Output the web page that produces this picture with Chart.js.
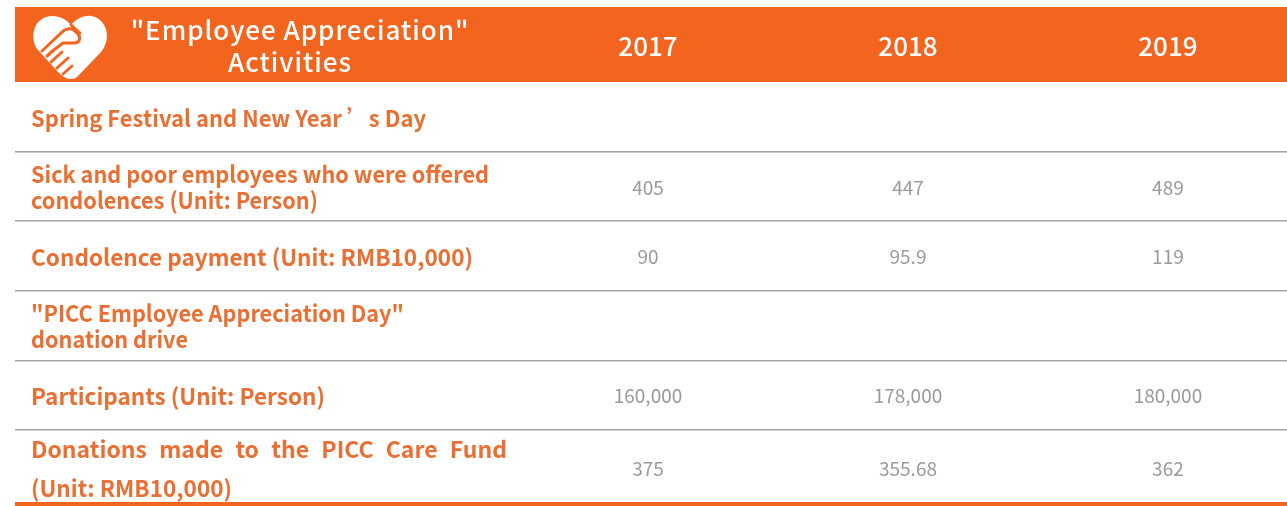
<!DOCTYPE html>
<html>
<head>
<meta charset="utf-8">
<script src="https://cdn.jsdelivr.net/npm/chart.js@4"></script>
<style>
  html, body { margin: 0; padding: 0; background: #fff; overflow: hidden; }
  canvas { display: block; }
</style>
</head>
<body>
<canvas id="myChart" width="1287" height="506"></canvas>
<script>
const years = [2017, 2018, 2019];
const headerTitle = ['"Employee Appreciation"', 'Activities'];
const rowLabels = [
    ["Spring Festival and New Year \u2019s Day"],
    ['Sick and poor employees who were offered', 'condolences (Unit: Person)'],
    ['Condolence payment (Unit: RMB10,000)'],
    ['"PICC Employee Appreciation Day"', 'donation drive'],
    ['Participants (Unit: Person)'],
    ['Donations made to the PICC Care Fund', '(Unit: RMB10,000)']
];
const values2017 = [null, 405, 90, null, 160000, 375];
const values2018 = [null, 447, 95.9, null, 178000, 355.68];
const values2019 = [null, 489, 119, null, 180000, 362];
const rowBreaks = [1, 2, 3, 4, 5];
const rowCentres = [0.5, 1.5, 2.5, 3.5, 4.5, 5.55];

const ORANGE = '#f3651f';
const LABEL_ORANGE = '#e96f33';
const FONT = '"Noto Sans CJK SC", "Noto Sans", sans-serif';
const BOTTOM_RULE = 6.06; // linea naranja de cierre
// ancho de cada linea de texto en la columna izquierda
const labelWidths = [[395], [458, 287], [442], [373, 157], [294], [476, 201]];

const toPoints = (year, values) => values.map((v, i) => ({ x: year, y: rowCentres[i], v: v }));

// corazon con las manos del encabezado
const drawHeart = (ctx) => {
    ctx.save();
    ctx.fillStyle = '#fff';
    ctx.beginPath();
    ctx.moveTo(70, 79);
    ctx.bezierCurveTo(66, 79, 62, 76, 58, 72);
    ctx.lineTo(38, 50);
    ctx.bezierCurveTo(30, 40, 32, 22, 46, 17);
    ctx.bezierCurveTo(56, 14, 65, 18, 71, 25);
    ctx.bezierCurveTo(78, 17, 88, 13, 97, 18);
    ctx.bezierCurveTo(109, 25, 110, 41, 101, 52);
    ctx.lineTo(78, 76);
    ctx.bezierCurveTo(75, 79, 72, 79, 70, 79);
    ctx.fill();

    ctx.strokeStyle = ORANGE;
    ctx.lineWidth = 3;
    ctx.lineCap = 'round';
    ctx.beginPath();
    ctx.moveTo(42, 51);
    ctx.lineTo(61, 33);
    ctx.bezierCurveTo(66, 28, 72, 27, 76, 32);
    ctx.bezierCurveTo(82, 37, 80, 43, 74, 43);
    ctx.lineTo(63, 43);
    ctx.lineTo(50, 53);
    ctx.moveTo(71, 25);
    ctx.lineTo(80, 33);
    ctx.moveTo(47, 56);
    ctx.lineTo(55, 49);
    ctx.moveTo(51, 62);
    ctx.lineTo(62, 52);
    ctx.moveTo(57, 68);
    ctx.lineTo(68, 58);
    ctx.moveTo(63, 74);
    ctx.lineTo(72, 66);
    ctx.stroke();
    ctx.restore();
};

// textos de la tabla, colocados con las escalas del grafico
const tableText = {
    id: 'tableText',
    afterDatasetsDraw(chart) {
        const ctx = chart.ctx;
        const yScale = chart.scales.y;

        drawHeart(ctx);

        ctx.save();
        ctx.textBaseline = 'middle';

        ctx.fillStyle = '#fff';
        ctx.textAlign = 'center';
        ctx.font = '500 26px ' + FONT;
        ctx.letterSpacing = '1px';
        ctx.fillText(headerTitle[0], 300, 30);
        ctx.fillText(headerTitle[1], 290, 62);

        ctx.fillStyle = LABEL_ORANGE;
        ctx.textAlign = 'left';
        ctx.font = '700 23px ' + FONT;
        ctx.letterSpacing = '0px';
        rowLabels.forEach((lines, r) => {
            const gap = r === 5 ? 39 : 26;
            const mid = yScale.getPixelForValue(rowCentres[r]);
            lines.forEach((line, i) => {
                const y = mid + (i - (lines.length - 1) / 2) * gap + 1;
                const width = labelWidths[r][i];
                ctx.wordSpacing = '0px';
                if (r === 5 && i === 0) { // esta linea va justificada
                    const extra = (width - ctx.measureText(line).width) / (line.split(' ').length - 1);
                    ctx.wordSpacing = extra + 'px';
                }
                ctx.fillText(line, 31, y, width);
            });
        });
        ctx.wordSpacing = '0px';

        ctx.fillStyle = '#9a9a9a';
        ctx.textAlign = 'center';
        ctx.font = '400 19px ' + FONT;
        chart.data.datasets.forEach((ds, d) => {
            chart.getDatasetMeta(d).data.forEach((pt, i) => {
                const v = ds.data[i].v;
                if (v !== null) ctx.fillText(v.toLocaleString('en-US'), pt.x, pt.y + 1);
            });
        });
        ctx.restore();
    }
};

const ctx = document.getElementById('myChart');

new Chart(ctx, {
    type: 'scatter',
    data: {
        datasets: [
            { label: '2017', data: toPoints(2017, values2017), pointRadius: 0 },
            { label: '2018', data: toPoints(2018, values2018), pointRadius: 0 },
            { label: '2019', data: toPoints(2019, values2019), pointRadius: 0 }
        ]
    },
    options: {
        responsive: false,
        animation: false,
        events: [],
        layout: { padding: { left: 15, top: 7, right: 0, bottom: 0 } },
        plugins: { legend: { display: false }, tooltip: { enabled: false } },
        scales: {
            x: {
                type: 'linear',
                position: 'top',
                min: 2014.565,
                max: 2019.458,
                backgroundColor: ORANGE,
                afterBuildTicks: scale => { scale.ticks = years.map(y => ({ value: y })); },
                afterFit: scale => { scale.height = 75; },
                grid: { display: false, drawTicks: false },
                border: { display: false },
                ticks: {
                    autoSkip: false,
                    maxRotation: 0,
                    padding: 20,
                    color: '#fff',
                    font: { family: FONT, size: 26, weight: '500' },
                    callback: value => String(value)
                }
            },
            y: {
                type: 'linear',
                reverse: true,
                min: 0,
                max: 6.094,
                afterBuildTicks: scale => {
                    scale.ticks = rowBreaks.concat(BOTTOM_RULE).map(v => ({ value: v }));
                },
                afterFit: scale => { scale.width = 0; },
                border: { display: false },
                grid: {
                    drawTicks: false,
                    color: c => (c.tick.value === BOTTOM_RULE ? ORANGE : '#a3a3a3'),
                    lineWidth: c => (c.tick.value === BOTTOM_RULE ? 4 : 1.6)
                },
                ticks: { display: false }
            }
        }
    },
    plugins: [tableText]
});
</script>
</body>
</html>
